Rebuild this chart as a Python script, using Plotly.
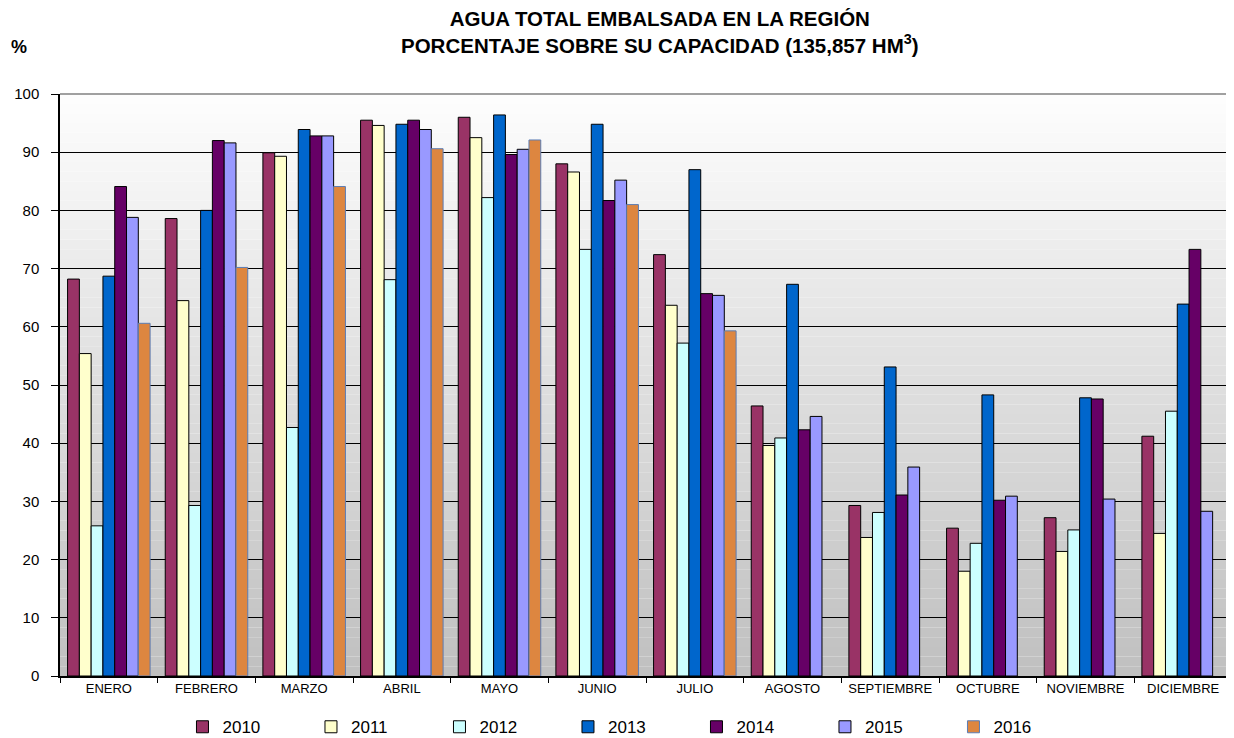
import plotly.graph_objects as go

months = ["ENERO", "FEBRERO", "MARZO", "ABRIL", "MAYO", "JUNIO", "JULIO",
          "AGOSTO", "SEPTIEMBRE", "OCTUBRE", "NOVIEMBRE", "DICIEMBRE"]

y2010 = [68.2, 78.6, 89.9, 95.5, 96.0, 88.0, 72.4, 46.4, 29.3, 25.4, 27.2, 41.2]
y2011 = [55.4, 64.5, 89.3, 94.6, 92.5, 86.6, 63.7, 39.6, 23.8, 18.0, 21.4, 24.5]
y2012 = [25.8, 29.3, 42.7, 68.1, 82.2, 73.3, 57.2, 40.9, 28.1, 22.8, 25.1, 45.5]
y2013 = [68.7, 80.0, 93.9, 94.8, 96.4, 94.8, 87.0, 67.3, 53.1, 48.3, 47.8, 63.9]
y2014 = [84.1, 92.0, 92.8, 95.5, 89.6, 81.7, 65.7, 42.3, 31.1, 30.2, 47.6, 73.3]
y2015 = [78.8, 91.6, 92.8, 93.9, 90.5, 85.2, 65.4, 44.6, 35.9, 30.9, 30.4, 28.3]
y2016 = [60.6, 70.2, 84.1, 90.6, 92.1, 81.0, 59.3, None, None, None, None, None]

series = [
    ("2010", y2010, "#993366", "#000000"),
    ("2011", y2011, "#FFFFCC", "#000000"),
    ("2012", y2012, "#CCFFFF", "#000000"),
    ("2013", y2013, "#0066CC", "#000000"),
    ("2014", y2014, "#660066", "#000000"),
    ("2015", y2015, "#9999FF", "#000000"),
    ("2016", y2016, "#DD8640", "#5B7DB5"),
]

fig = go.Figure()
for name, vals, color, line in series:
    fig.add_trace(go.Bar(
        name=name, x=months, y=vals,
        marker=dict(color=color, line=dict(color=line, width=1)),
    ))

# gradient background (white at top -> grey at bottom)
shapes = []
n = 60
for i in range(n):
    t = i / (n - 1)
    v = int(round(0xC0 + (0xFD - 0xC0) * t))
    shapes.append(dict(type="rect", xref="paper", yref="paper",
                       x0=0, x1=1, y0=i / n, y1=(i + 1) / n,
                       fillcolor=f"rgb({v},{v},{v})", line=dict(width=0),
                       layer="below"))
# top border of plot area
shapes.append(dict(type="line", xref="paper", yref="paper", x0=0, x1=1,
                   y0=1, y1=1, line=dict(color="#808080", width=1.5)))

fig.update_layout(
    width=1226, height=730,
    margin=dict(l=52, r=2, t=86, b=62, autoexpand=False),
    paper_bgcolor="white",
    plot_bgcolor="rgba(0,0,0,0)",
    barmode="group",
    bargap=0.155,
    bargroupgap=0,
    font=dict(family="Arial, Liberation Sans, sans-serif", color="black"),
    shapes=shapes,
    showlegend=True,
    legend=dict(orientation="h", x=0.1045, y=-0.088, xanchor="left", yanchor="middle",
                font=dict(size=17), entrywidth=83.5, entrywidthmode="pixels",
                itemwidth=30, traceorder="normal", itemclick=False,
                bgcolor="rgba(0,0,0,0)"),
    annotations=[
        dict(text="<b>AGUA TOTAL EMBALSADA EN LA REGIÓN<br>PORCENTAJE SOBRE SU CAPACIDAD (135,857 HM<sup>3</sup>)</b>",
             xref="paper", yref="paper", x=0.512, y=1.106, xanchor="center", yanchor="middle",
             showarrow=False, font=dict(size=20.5)),
        dict(text="<b>%</b>", xref="paper", yref="paper", x=-0.035, y=1.081,
             xanchor="center", yanchor="middle", showarrow=False, font=dict(size=18)),
    ],
)

fig.update_yaxes(range=[0, 100], dtick=10, showgrid=True, gridcolor="#000000",
                 gridwidth=1, showline=True, linecolor="#000000", linewidth=1.5,
                 ticks="outside", ticklen=7, tickcolor="#000000",
                 ticklabelstandoff=9,
                 tickfont=dict(size=15), zeroline=False)
fig.update_xaxes(showline=True, linecolor="#000000", linewidth=1.5,
                 ticks="outside", tickson="boundaries", ticklen=5, tickcolor="#000000",
                 tickfont=dict(size=13), showgrid=False)

fig.write_html("out.html")
